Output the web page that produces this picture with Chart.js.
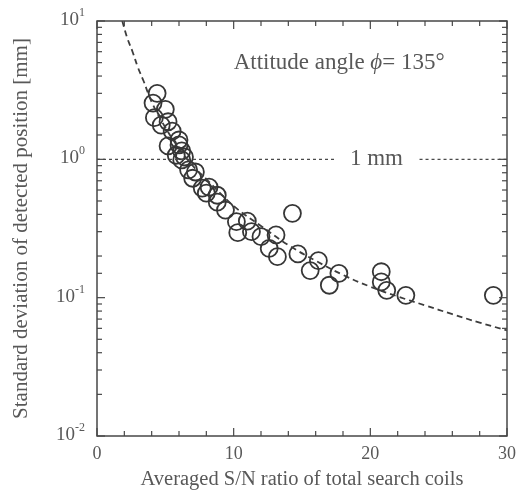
<!DOCTYPE html>
<html>
<head>
<meta charset="utf-8">
<script src="https://cdn.jsdelivr.net/npm/chart.js@4.4.1/dist/chart.umd.min.js"></script>
<style>
  html, body { margin: 0; padding: 0; background: #fff; }
  #wrap { width: 523px; height: 494px; }
</style>
</head>
<body>
<div id="wrap"><canvas id="chart"></canvas></div>
<script>
// measured points: averaged S/N ratio vs std deviation [mm]
const snr = [4.4, 4.1, 5.0, 4.2, 4.7, 5.2, 5.5, 6.0, 5.2, 6.2, 5.8, 6.2, 6.0, 6.4, 6.7, 7.2, 7.0, 7.7, 8.2, 8.0,
             8.8, 8.8, 9.4, 10.2, 11.0, 10.3, 11.3, 12.0, 12.6, 13.1, 13.2, 14.3, 14.7, 15.6, 16.2, 17.0, 17.7,
             20.8, 20.8, 21.2, 22.6, 29.0];
const sigma = [3.0, 2.55, 2.3, 2.0, 1.77, 1.87, 1.6, 1.38, 1.25, 1.15, 1.07, 0.99, 1.27, 1.04, 0.84, 0.81, 0.73, 0.62, 0.63, 0.57,
               0.55, 0.49, 0.43, 0.354, 0.358, 0.295, 0.30, 0.276, 0.227, 0.284, 0.198, 0.407, 0.207, 0.157, 0.185, 0.123, 0.150,
               0.154, 0.130, 0.113, 0.104, 0.104];

// dashed fit curve
const fitX = [1.85, 2.2, 2.6, 3.0, 3.4, 4, 5, 6, 7, 8, 10, 12, 14, 16, 18, 20, 22, 24, 26, 28, 30];
const fitY = [10, 7.6, 6.0, 4.6, 3.7, 2.6, 1.7, 1.2, 0.9, 0.72, 0.46, 0.33, 0.24, 0.185, 0.146, 0.12, 0.102, 0.088, 0.076, 0.066, 0.058];

// 1 mm reference line (broken where the label sits)
const refX = [0, 17.4, 20, 23.6, 30];
const refY = [1, 1, null, 1, 1];

const xTickLabels = [0, 10, 20, 30];
const yDecades = [-2, -1, 0, 1];

const SERIF = '"Liberation Serif", "DejaVu Serif", serif';
const TEXT = '#585858';

const toPts = (xs, ys) => xs.map((v, i) => ({x: v, y: ys[i]}));

const decor = {
  id: 'decor',
  afterDatasetsDraw(chart) {
    const {ctx, chartArea: a, scales: {x, y}} = chart;
    ctx.save();
    ctx.strokeStyle = '#474747';
    ctx.lineWidth = 1.5;
    ctx.strokeRect(a.left, a.top, a.right - a.left, a.bottom - a.top);

    ctx.lineWidth = 1.2;
    const seg = (x1, y1, x2, y2) => { ctx.beginPath(); ctx.moveTo(x1, y1); ctx.lineTo(x2, y2); ctx.stroke(); };
    x.ticks.forEach(t => {
      const px = x.getPixelForValue(t.value);
      const len = t.value % 10 === 0 ? 8 : 5;
      seg(px, a.bottom, px, a.bottom - len);
      seg(px, a.top, px, a.top + len);
    });
    y.ticks.forEach(t => {
      const py = y.getPixelForValue(t.value);
      const lg = Math.log10(t.value);
      const len = Math.abs(lg - Math.round(lg)) < 1e-6 ? 8 : 5;
      seg(a.left, py, a.left + len, py);
      seg(a.right, py, a.right - len, py);
    });

    // y tick labels 10^n
    ctx.fillStyle = TEXT;
    ctx.textBaseline = 'middle';
    yDecades.forEach(d => {
      const py = y.getPixelForValue(Math.pow(10, d)) - 2;
      const ex = d < 0 ? '-' + Math.abs(d) : String(d);
      ctx.font = '12px ' + SERIF;
      const ew = ctx.measureText(ex).width;
      const right = 85;
      ctx.textAlign = 'left';
      ctx.fillText(ex, right - ew, py - 6);
      ctx.font = '19px ' + SERIF;
      ctx.textAlign = 'right';
      ctx.fillText('10', right - ew, py + 1);
    });

    // "1 mm" label
    ctx.font = '23px ' + SERIF;
    ctx.textAlign = 'center';
    ctx.fillText('1 mm', x.getPixelForValue(20.45), y.getPixelForValue(1));

    // attitude angle annotation
    let tx = x.getPixelForValue(10);
    const ty = y.getPixelForValue(5);
    ctx.textAlign = 'left';
    const parts = [['Attitude angle ', ''], ['\u03D5', 'italic '], ['= 135\u00B0', '']];
    parts.forEach(([s, st]) => {
      ctx.font = st + '23px ' + SERIF;
      ctx.fillText(s, tx, ty);
      tx += ctx.measureText(s).width;
    });
    ctx.restore();
  }
};

new Chart(document.getElementById('chart'), {
  type: 'scatter',
  data: {
    datasets: [
      {
        label: 'fit',
        type: 'line',
        data: toPts(fitX, fitY),
        borderColor: '#3d3d3d',
        borderWidth: 1.8,
        borderDash: [6, 4],
        pointRadius: 0,
        tension: 0.4,
        fill: false
      },
      {
        label: '1 mm',
        type: 'line',
        data: toPts(refX, refY),
        borderColor: '#4a4a4a',
        borderWidth: 1.1,
        borderDash: [3, 3],
        pointRadius: 0,
        spanGaps: false,
        fill: false
      },
      {
        label: 'measured',
        data: toPts(snr, sigma),
        pointStyle: 'circle',
        pointRadius: 8.5,
        borderWidth: 1.8,
        borderColor: '#363636',
        backgroundColor: 'rgba(255,255,255,0)'
      }
    ]
  },
  options: {
    responsive: true,
    maintainAspectRatio: false,
    animation: false,
    layout: { padding: { top: 21, right: 11, left: 0, bottom: 0 } },
    scales: {
      x: {
        type: 'linear',
        min: 0,
        max: 30,
        grid: { display: false, drawTicks: false },
        border: { display: false },
        afterFit: s => { s.height = 58; },
        ticks: {
          stepSize: 2,
          autoSkip: false,
          maxRotation: 0,
          padding: 7,
          color: TEXT,
          font: { family: SERIF, size: 18 },
          callback: v => xTickLabels.includes(v) ? String(v) : ''
        },
        title: {
          display: true,
          text: 'Averaged S/N ratio of total search coils',
          color: TEXT,
          font: { family: SERIF, size: 20.5 },
          padding: { top: 2, bottom: 2 }
        }
      },
      y: {
        type: 'logarithmic',
        min: 0.01,
        max: 10,
        grid: { display: false, drawTicks: false },
        border: { display: false },
        afterFit: s => { s.width = 97; },
        ticks: { display: false },
        title: {
          display: true,
          text: 'Standard deviation of detected position [mm]',
          color: TEXT,
          font: { family: SERIF, size: 21 },
          padding: { top: 9, bottom: 9 }
        }
      }
    },
    plugins: {
      legend: { display: false },
      tooltip: { enabled: false }
    }
  },
  plugins: [decor]
});
</script>
</body>
</html>
